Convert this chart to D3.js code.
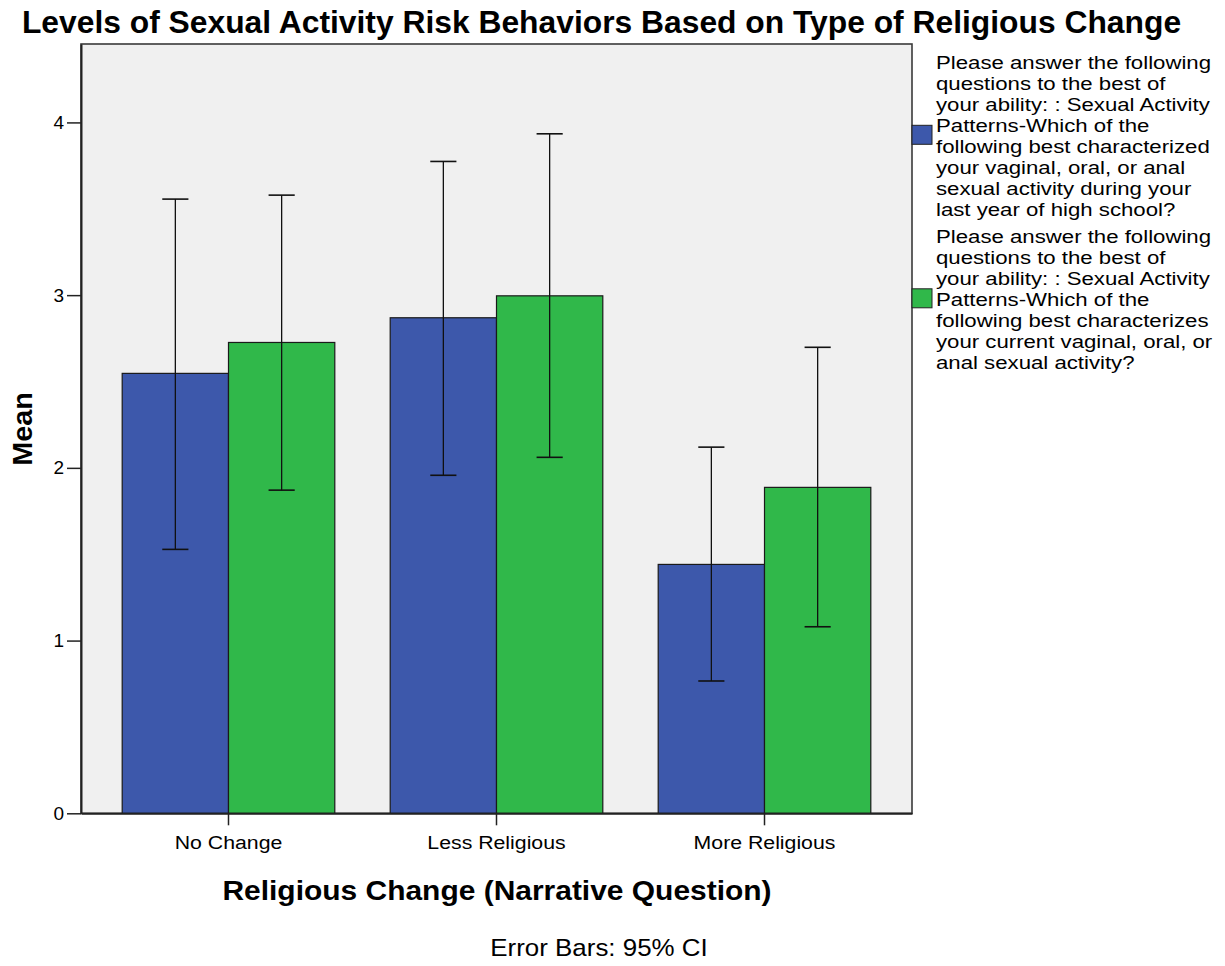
<!DOCTYPE html>
<html>
<head>
<meta charset="utf-8">
<script src="https://cdn.jsdelivr.net/npm/d3@7"></script>
<style>
  html, body { margin: 0; padding: 0; background: #ffffff; }
  svg { display: block; }
  text { font-family: Arial, "Liberation Sans", sans-serif; fill: #000; }
</style>
</head>
<body>
<svg id="chart" width="1225" height="966"></svg>
<script>
// Religious change categories (x axis)
const categories = ["No Change", "Less Religious", "More Religious"];
// Two survey items, drawn as paired bars
const seriesKeys = ["highSchool", "current"];
const seriesColors = ["#3d58ab", "#30b84a"];
// Means per category for each item
const meanHighSchool = [2.547, 2.869, 1.441];
const meanCurrent    = [2.726, 2.996, 1.887];
// 95% confidence interval bounds
const ciLowHighSchool  = [1.528, 1.957, 0.766];
const ciHighHighSchool = [3.556, 3.774, 2.120];
const ciLowCurrent     = [1.871, 2.061, 1.080];
const ciHighCurrent    = [3.579, 3.934, 2.698];
// Y axis ticks
const yTicks = [0, 1, 2, 3, 4];
// Legend text, already wrapped as displayed
const legendHighSchool = [
  "Please answer the following",
  "questions to the best of",
  "your ability: : Sexual Activity",
  "Patterns-Which of the",
  "following best characterized",
  "your vaginal, oral, or anal",
  "sexual activity during your",
  "last year of high school?"
];
const legendCurrent = [
  "Please answer the following",
  "questions to the best of",
  "your ability: : Sexual Activity",
  "Patterns-Which of the",
  "following best characterizes",
  "your current vaginal, oral, or",
  "anal sexual activity?"
];

const rows = categories.map((c, i) => ({
  category: c,
  values: [
    { key: "highSchool", mean: meanHighSchool[i], lo: ciLowHighSchool[i], hi: ciHighHighSchool[i] },
    { key: "current",    mean: meanCurrent[i],    lo: ciLowCurrent[i],    hi: ciHighCurrent[i] }
  ]
}));

const svg = d3.select("#chart");

// Plot frame
const frame = { left: 81, right: 912, top: 44, bottom: 813.3 };

const y = d3.scaleLinear().domain([0, 4.454]).range([frame.bottom, frame.top]);
const x0 = d3.scaleBand().domain(categories).range([frame.left, frame.right])
  .paddingInner(0.2067).paddingOuter(0.1537);
const x1 = d3.scaleBand().domain(seriesKeys).range([0, x0.bandwidth()]).padding(0);
const color = d3.scaleOrdinal().domain(seriesKeys).range(seriesColors);

// Background panel
svg.append("rect")
  .attr("x", frame.left).attr("y", frame.top)
  .attr("width", frame.right - frame.left).attr("height", frame.bottom - frame.top)
  .attr("fill", "#f0f0f0")
  .attr("stroke", "#3a3a3a").attr("stroke-width", 1.6);

// Bars
const groups = svg.append("g").selectAll("g").data(rows).join("g")
  .attr("transform", d => `translate(${x0(d.category)},0)`);

groups.selectAll("rect").data(d => d.values).join("rect")
  .attr("x", d => x1(d.key))
  .attr("y", d => y(d.mean))
  .attr("width", x1.bandwidth())
  .attr("height", d => y(0) - y(d.mean))
  .attr("fill", d => color(d.key))
  .attr("stroke", "#1a1a1a").attr("stroke-width", 1.2);

// Error bars
const capHalf = x1.bandwidth() * 0.123;
const eb = groups.selectAll("g.err").data(d => d.values).join("g")
  .attr("class", "err")
  .attr("transform", d => `translate(${x1(d.key) + x1.bandwidth() / 2},0)`);
eb.append("line")
  .attr("x1", 0).attr("x2", 0)
  .attr("y1", d => y(d.hi)).attr("y2", d => y(d.lo))
  .attr("stroke", "#111").attr("stroke-width", 1.3);
eb.append("line")
  .attr("x1", -capHalf).attr("x2", capHalf)
  .attr("y1", d => y(d.hi)).attr("y2", d => y(d.hi))
  .attr("stroke", "#111").attr("stroke-width", 1.6);
eb.append("line")
  .attr("x1", -capHalf).attr("x2", capHalf)
  .attr("y1", d => y(d.lo)).attr("y2", d => y(d.lo))
  .attr("stroke", "#111").attr("stroke-width", 1.6);

// Y axis
const yAxis = svg.append("g")
  .attr("transform", `translate(${frame.left},0)`)
  .call(d3.axisLeft(y).tickValues(yTicks).tickFormat(d3.format("d")).tickSize(14).tickSizeOuter(0).tickPadding(3));
yAxis.select(".domain").attr("stroke", "#222").attr("stroke-width", 2);
yAxis.selectAll(".tick line").attr("stroke", "#222").attr("stroke-width", 1.5);
yAxis.selectAll(".tick text")
  .style("font-family", "Arial, 'Liberation Sans', sans-serif")
  .style("font-size", "19px").attr("fill", "#000");

// X axis
const xAxis = svg.append("g")
  .attr("transform", `translate(0,${frame.bottom})`)
  .call(d3.axisBottom(x0).tickSize(12).tickSizeOuter(0).tickPadding(10));
xAxis.select(".domain").attr("stroke", "#222").attr("stroke-width", 2);
xAxis.selectAll(".tick line").attr("stroke", "#222").attr("stroke-width", 1.5);
xAxis.selectAll(".tick text")
  .style("font-family", "Arial, 'Liberation Sans', sans-serif")
  .style("font-size", "19px").attr("fill", "#000")
  .attr("transform", "scale(1.12,1)");

// Horizontally scaled text helper
function label(x, yPos, str, size, weight, sx, anchor, rotate) {
  const g = svg.append("g")
    .attr("transform", `translate(${x},${yPos})` + (rotate ? ` rotate(${rotate})` : "") + ` scale(${sx},1)`);
  g.append("text")
    .attr("text-anchor", anchor)
    .style("font-size", size + "px")
    .style("font-weight", weight)
    .text(str);
  return g;
}

// Title
label(601.5, 33, "Levels of Sexual Activity Risk Behaviors Based on Type of Religious Change", 31.5, "bold", 1.01, "middle");
// Axis titles
label(497, 900, "Religious Change (Narrative Question)", 28, "bold", 1.07, "middle");
label(32, 429, "Mean", 28, "bold", 1.03, "middle", -90);
// Footnote
label(599, 956, "Error Bars: 95% CI", 24, "normal", 1.08, "middle");

// Legend
const legendBlocks = [legendHighSchool, legendCurrent];
const lineH = 21, blockGap = 27, legendTextX = 936, swatchX = 912;
let baseY = 69.3;
legendBlocks.forEach((lines, i) => {
  const first = baseY;
  lines.forEach((ln, j) => {
    label(legendTextX, baseY + j * lineH, ln, 18.5, "normal", 1.2, "start");
  });
  const last = baseY + (lines.length - 1) * lineH;
  const center = (first + last) / 2 - 8;
  svg.append("rect")
    .attr("x", swatchX).attr("y", center - 9.5)
    .attr("width", 20).attr("height", 19)
    .attr("fill", color(seriesKeys[i]))
    .attr("stroke", "#222").attr("stroke-width", 1);
  baseY = last + blockGap;
});
</script>
</body>
</html>
